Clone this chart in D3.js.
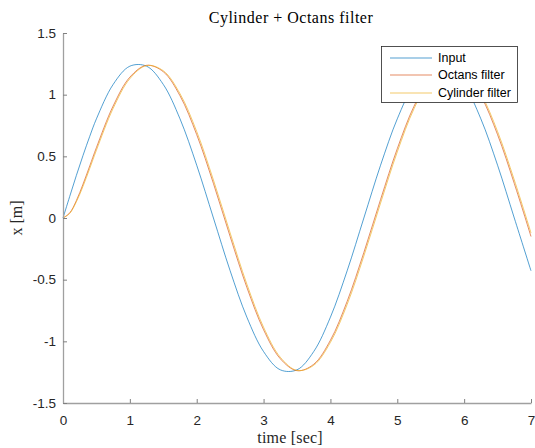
<!DOCTYPE html>
<html><head><meta charset="utf-8">
<script src="https://cdn.jsdelivr.net/npm/d3@7/dist/d3.min.js"></script>
<style>body{margin:0;background:#fff}svg{display:block}</style>
</head><body>
<svg id="chart" width="535" height="448"></svg>
<script>
// ---- data ----
const time = [0, 0.1, 0.2, 0.3, 0.4, 0.5, 0.75, 1, 1.25, 1.5, 1.75, 2, 2.25, 2.5, 2.75, 3, 3.25, 3.5, 3.75, 4, 4.25, 4.5, 4.75, 5, 5.25, 5.5, 5.75, 6, 6.25, 6.5, 6.75, 7];
const inputValues = [0, 0.174, 0.345, 0.508, 0.662, 0.804, 1.083, 1.231, 1.231, 1.083, 0.804, 0.428, 0, -0.428, -0.804, -1.083, -1.231, -1.231, -1.083, -0.804, -0.428, 0, 0.428, 0.804, 1.083, 1.231, 1.231, 1.083, 0.804, 0.428, 0, -0.428];
const octansValues = [0, 0.041, 0.141, 0.275, 0.422, 0.571, 0.908, 1.142, 1.238, 1.186, 0.991, 0.676, 0.280, -0.150, -0.562, -0.906, -1.141, -1.238, -1.186, -0.991, -0.676, -0.280, 0.150, 0.562, 0.906, 1.141, 1.238, 1.186, 0.991, 0.676, 0.280, -0.150];
const cylinderValues = [0, 0.037, 0.131, 0.258, 0.402, 0.550, 0.889, 1.130, 1.236, 1.194, 1.008, 0.701, 0.308, -0.121, -0.536, -0.886, -1.129, -1.236, -1.194, -1.008, -0.701, -0.308, 0.121, 0.536, 0.886, 1.129, 1.236, 1.194, 1.008, 0.701, 0.308, -0.121];
const seriesNames = ["Input", "Octans filter", "Cylinder filter"];
const xTicks = [0, 1, 2, 3, 4, 5, 6, 7];
const yTicks = [-1.5, -1, -0.5, 0, 0.5, 1, 1.5];
const titleText = "Cylinder + Octans filter";
const xLabelText = "time [sec]";
const yLabelText = "x [m]";

// ---- drawing ----
const colors = ["#0072BD", "#D95319", "#EDB120"];
const svg = d3.select("#chart");
const mLeft = 63, mRight = 531, mTop = 33, mBottom = 403;
const x = d3.scaleLinear().domain([0, 7]).range([mLeft, mRight]);
const y = d3.scaleLinear().domain([-1.5, 1.5]).range([mBottom, mTop]);

const sans = "'Liberation Sans', Arial, Helvetica, sans-serif";
const serif = "'Liberation Serif', 'DejaVu Serif', serif";

const series = [inputValues, octansValues, cylinderValues];
const line = d3.line().x((d, i) => x(time[i])).y(d => y(d)).curve(d3.curveCatmullRom.alpha(0.5));
series.forEach((vals, k) => {
  svg.append("path").attr("d", line(vals)).attr("fill", "none")
    .attr("stroke", colors[k]).attr("stroke-width", 0.8).attr("stroke-opacity", 0.85);
});

// axes
const xAxis = d3.axisBottom(x).tickValues(xTicks).tickFormat(d3.format("d")).tickSizeInner(-4).tickSizeOuter(0).tickPadding(12);
const yAxis = d3.axisLeft(y).tickValues(yTicks).tickFormat(d => String(d)).tickSizeInner(-4).tickSizeOuter(0).tickPadding(8);
const gx = svg.append("g").attr("transform", `translate(0,${mBottom})`).call(xAxis);
const gy = svg.append("g").attr("transform", `translate(${mLeft},0)`).call(yAxis);
[gx, gy].forEach(g => {
  g.select(".domain").attr("stroke", "#a0a0a0").attr("stroke-width", 1.3);
  g.selectAll(".tick line").attr("stroke", "#808080");
  g.selectAll(".tick text").attr("fill", "#262626").style("font-family", sans).style("font-size", "13.5px");
});
gy.selectAll(".tick text").attr("x", -7);

// title & labels
svg.append("text").attr("x", 291).attr("y", 23).attr("text-anchor", "middle")
  .style("font-family", serif).style("font-size", "16px").style("letter-spacing", "0.5px").attr("fill", "#000").text(titleText);
svg.append("text").attr("x", 290).attr("y", 443).attr("text-anchor", "middle")
  .style("font-family", serif).style("font-size", "16px").style("letter-spacing", "0.2px").attr("fill", "#262626").text(xLabelText);
svg.append("text").attr("transform", "translate(22,218) rotate(-90)").attr("text-anchor", "middle")
  .style("font-family", serif).style("font-size", "16px").attr("fill", "#262626").text(yLabelText);

// legend
const lg = svg.append("g");
lg.append("rect").attr("x", 381.5).attr("y", 46.5).attr("width", 136).attr("height", 56)
  .attr("fill", "#fff").attr("stroke", "#262626").attr("stroke-width", 0.8);
const rowY = [58, 75, 93];
seriesNames.forEach((name, k) => {
  lg.append("line").attr("x1", 390).attr("x2", 432).attr("y1", rowY[k]).attr("y2", rowY[k])
    .attr("stroke", colors[k]).attr("stroke-width", 0.8).attr("stroke-opacity", 0.85);
  lg.append("text").attr("x", 438).attr("y", rowY[k]).attr("dy", "0.35em")
    .style("font-family", sans).style("font-size", "12.5px").attr("fill", "#000").text(name);
});
</script>
</body></html>
